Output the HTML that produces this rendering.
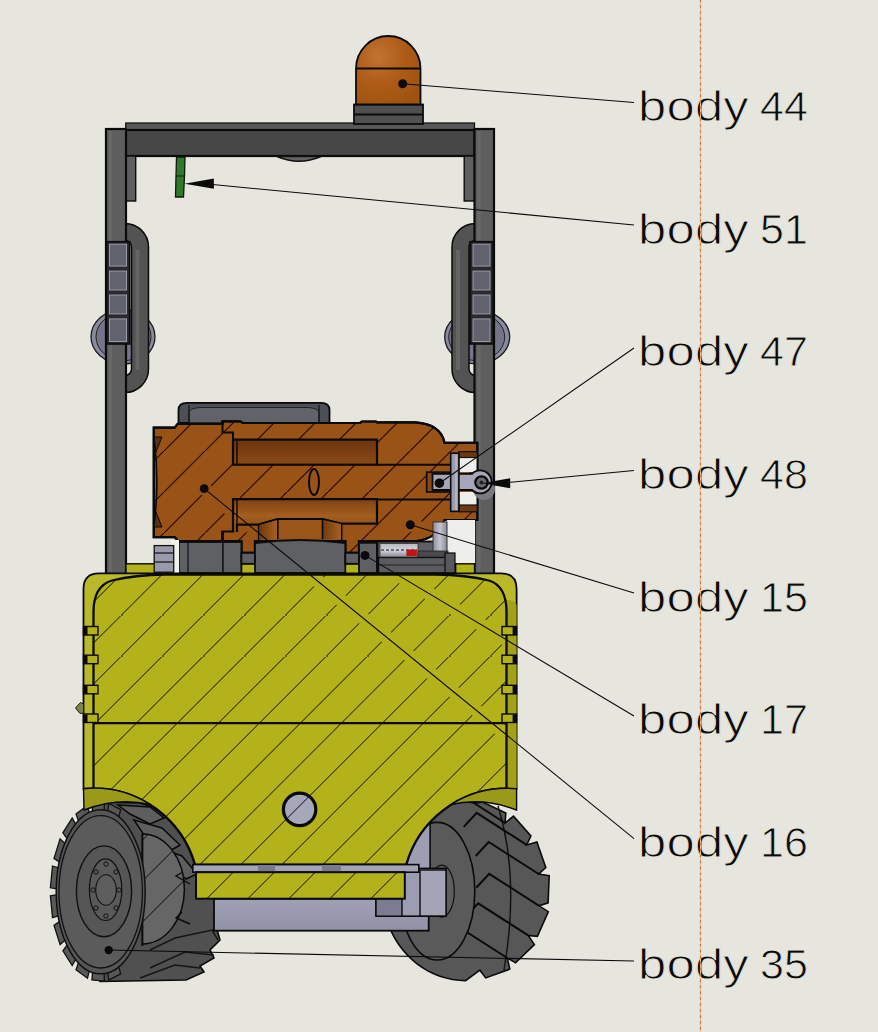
<!DOCTYPE html>
<html><head><meta charset="utf-8">
<style>
html,body{margin:0;padding:0;background:#E6E5DE;width:878px;height:1032px;overflow:hidden}
svg{display:block;position:absolute;left:0;top:0}
.lbl{position:absolute;font-family:"Liberation Sans",sans-serif;font-size:43px;color:#0a0a0a;white-space:nowrap;line-height:1;-webkit-text-stroke:0.9px #E6E5DE}
.b{left:638px;transform:scaleX(1.18);transform-origin:0 0;letter-spacing:0.2px}
.n{left:760px}
</style></head>
<body>
<svg width="878" height="1032" viewBox="0 0 878 1032">
<defs>
<pattern id="hy" patternUnits="userSpaceOnUse" width="41" height="41" patternTransform="translate(-1.5,0)">
<path d="M-2,43 L43,-2" stroke="#0a0a0a" stroke-width="1.0"/>
</pattern>
<pattern id="ho" patternUnits="userSpaceOnUse" width="41" height="41">
<path d="M-2,43 L43,-2" stroke="#2a0606" stroke-width="1.2"/>
</pattern>
<linearGradient id="cav1" x1="0" y1="0" x2="0" y2="1"><stop offset="0" stop-color="#6a3410"/><stop offset="1" stop-color="#8e4a16"/></linearGradient>
<linearGradient id="cav2" x1="0" y1="0" x2="0" y2="1"><stop offset="0" stop-color="#7e4212"/><stop offset="0.5" stop-color="#a35e20"/><stop offset="1" stop-color="#8a4814"/></linearGradient>
<linearGradient id="pist" x1="0" y1="0" x2="1" y2="0"><stop offset="0" stop-color="#6e3a10"/><stop offset="1" stop-color="#a8621e"/></linearGradient>
<radialGradient id="dome" cx="0.35" cy="0.3" r="0.8"><stop offset="0" stop-color="#C27434"/><stop offset="0.5" stop-color="#AE5C16"/><stop offset="1" stop-color="#9E5210"/></radialGradient>
<linearGradient id="silv" x1="0" y1="0" x2="1" y2="0"><stop offset="0" stop-color="#8e8e9c"/><stop offset="0.5" stop-color="#c6c6d0"/><stop offset="1" stop-color="#8a8a98"/></linearGradient>
<linearGradient id="silv2" x1="0" y1="0" x2="0" y2="1"><stop offset="0" stop-color="#b8b8c4"/><stop offset="0.5" stop-color="#d4d4dc"/><stop offset="1" stop-color="#8a8a98"/></linearGradient>
<linearGradient id="blk" x1="0" y1="0" x2="0" y2="1"><stop offset="0" stop-color="#a2a2b6"/><stop offset="1" stop-color="#9090a6"/></linearGradient>
<clipPath id="clo"><path d="M153.8,427.6 H174.6 L177.7,423.8 H222.5 V421.3 H240 L243,423 H360 L362,421.5 H376 L377,422.3 H415 Q441,424 444.5,442.8 H477.3 V520 H444.5 Q438,538 416.5,541.2 H359 V552.9 H345.3 V541 H255 V552.9 H241.4 V541 H222.5 V531.5 L222.5,541 H178 L174.6,537.2 H153.8 Z"/></clipPath>
<clipPath id="cly"><path d="M93.5,612 Q93.5,586 112,580.5 Q135,575 165,574.5 H436 Q466,575 489,580.5 Q506.5,586 506.5,612 V788.4 A105.4,105.4 0 0 0 406.2,864.6 H195 A105.4,105.4 0 0 0 93.5,788.4 Z"/></clipPath>
</defs>

<!-- dashed vertical line -->


<!-- mirrors -->
<ellipse cx="123" cy="336.75" rx="32" ry="27.25" fill="#8a8a9e" stroke="#1a1a1a" stroke-width="1.3"/>
<ellipse cx="123.5" cy="336.75" rx="27.5" ry="24" fill="#74748a" stroke="#222" stroke-width="1"/>
<ellipse cx="477.2" cy="337.1" rx="32.5" ry="26.7" fill="#8a8a9e" stroke="#1a1a1a" stroke-width="1.3"/>
<ellipse cx="476.7" cy="337.1" rx="28" ry="23.5" fill="#74748a" stroke="#222" stroke-width="1"/>
<!-- top bar -->
<rect x="125.7" y="123" width="348.8" height="7.2" fill="#585858" stroke="#0c0c0c" stroke-width="1.2"/>
<rect x="125.7" y="130" width="348.8" height="26" fill="#474747" stroke="#0a0a0a" stroke-width="2.2"/>
<rect x="125.7" y="156" width="10" height="45" fill="#5f5f5f" stroke="#0c0c0c" stroke-width="1.4"/>
<rect x="464.2" y="156" width="10.3" height="45" fill="#5f5f5f" stroke="#0c0c0c" stroke-width="1.4"/>
<path d="M277,156.5 Q299,166 321,156.5 Z" fill="#666" stroke="#111" stroke-width="1.5"/>

<!-- beacon -->
<rect x="354" y="104.5" width="69" height="19.5" fill="#505050" stroke="#0a0a0a" stroke-width="1.8"/>
<line x1="354" y1="114.5" x2="423" y2="114.5" stroke="#0a0a0a" stroke-width="2"/>
<path d="M356,104.5 V68.6 A32.25,32.6 0 0 1 420.5,68.6 V104.5 Z" fill="url(#dome)" stroke="#0a0a0a" stroke-width="1.8"/>
<line x1="356" y1="68.6" x2="420.5" y2="68.6" stroke="#0a0a0a" stroke-width="2"/>

<!-- body 51 green -->
<path d="M176.5,157 L185,157 L184.5,176 L183.5,197 L175.5,197 L176,176 Z" fill="#2E7A2A" stroke="#0c1a0c" stroke-width="1.3"/>
<line x1="176" y1="176" x2="184.5" y2="176" stroke="#0c1a0c" stroke-width="1"/>

<!-- handles -->
<path d="M125,232 A15,15 0 0 1 140,247 V369 A15,15 0 0 1 125,384" fill="none" stroke="#0a0a0a" stroke-width="18.5"/>
<path d="M125,232 A15,15 0 0 1 140,247 V369 A15,15 0 0 1 125,384" fill="none" stroke="#535353" stroke-width="15.5"/>
<path d="M137.5,250 V370" fill="none" stroke="#646464" stroke-width="4"/>
<path d="M475.5,232 A15,15 0 0 0 460.5,247 V369 A15,15 0 0 0 475.5,384" fill="none" stroke="#0a0a0a" stroke-width="18.5"/>
<path d="M475.5,232 A15,15 0 0 0 460.5,247 V369 A15,15 0 0 0 475.5,384" fill="none" stroke="#535353" stroke-width="15.5"/>
<path d="M458,250 V370" fill="none" stroke="#646464" stroke-width="4"/>
<!-- pillars -->
<rect x="106" y="129" width="20" height="445" fill="#5e5e5e" stroke="#0a0a0a" stroke-width="2.2"/>
<rect x="474.5" y="129" width="19.5" height="445" fill="#5e5e5e" stroke="#0a0a0a" stroke-width="2.2"/>
<rect x="109" y="131" width="3" height="441" fill="#686868"/>
<rect x="477.5" y="131" width="3" height="441" fill="#686868"/>

<!-- steps -->
<g>
<rect x="106.5" y="241.7" width="23.2" height="102.3" fill="#2a2a2e" stroke="#0a0a0a" stroke-width="1.6"/>
<rect x="109.5" y="244.2" width="17" height="21.9" fill="#62626f" stroke="#9a9aa8" stroke-width="1"/>
<rect x="109.5" y="271.1" width="17" height="18.9" fill="#62626f" stroke="#9a9aa8" stroke-width="1"/>
<rect x="109.5" y="295.0" width="17" height="18.9" fill="#62626f" stroke="#9a9aa8" stroke-width="1"/>
<rect x="109.5" y="318.9" width="17" height="22.6" fill="#62626f" stroke="#9a9aa8" stroke-width="1"/>
<rect x="470.0" y="241.7" width="23.2" height="102.3" fill="#2a2a2e" stroke="#0a0a0a" stroke-width="1.6"/>
<rect x="473.0" y="244.2" width="17" height="21.9" fill="#62626f" stroke="#9a9aa8" stroke-width="1"/>
<rect x="473.0" y="271.1" width="17" height="18.9" fill="#62626f" stroke="#9a9aa8" stroke-width="1"/>
<rect x="473.0" y="295.0" width="17" height="18.9" fill="#62626f" stroke="#9a9aa8" stroke-width="1"/>
<rect x="473.0" y="318.9" width="17" height="22.6" fill="#62626f" stroke="#9a9aa8" stroke-width="1"/>
</g>

<!-- engine gray cap -->
<path d="M178.5,423 V410 Q178.5,402.8 187,402.8 H321 Q329.5,402.8 329.5,410 V423 Z" fill="#4c4f55" stroke="#0a0a0a" stroke-width="1.8"/>
<path d="M189,423 V412 Q191,408 200,407.5 H308 Q317,408 319,412 V423 Z" fill="#60636a" stroke="#222" stroke-width="1"/>
<line x1="189" y1="405" x2="189" y2="423" stroke="#111" stroke-width="1.2"/>
<line x1="319" y1="405" x2="319" y2="423" stroke="#111" stroke-width="1.2"/>

<!-- ORANGE SECTION -->
<path d="M153.8,427.6 H174.6 L177.7,423.8 H222.5 V421.3 H240 L243,423 H360 L362,421.5 H376 L377,422.3 H415 Q441,424 444.5,442.8 H477.3 V520 H444.5 Q438,538 416.5,541.2 H359 V552.9 H345.3 V541 H255 V552.9 H241.4 V541 H222.5 V531.5 L222.5,541 H178 L174.6,537.2 H153.8 Z" fill="#9A5317" stroke="#0a0a0a" stroke-width="2.2"/>
<path d="M153.8,427.6 H174.6 L177.7,423.8 H222.5 V421.3 H240 L243,423 H360 L362,421.5 H376 L377,422.3 H415 Q441,424 444.5,442.8 H477.3 V520 H444.5 Q438,538 416.5,541.2 H359 V552.9 H345.3 V541 H255 V552.9 H241.4 V541 H222.5 V531.5 L222.5,541 H178 L174.6,537.2 H153.8 Z" fill="url(#ho)"/>
<g clip-path="url(#clo)" stroke="#9A5317" stroke-width="13" stroke-linecap="round">
<line x1="204.2" y1="488.7" x2="634" y2="838.7"/>
<line x1="365" y1="555.4" x2="634" y2="716"/>
<line x1="410.3" y1="524.8" x2="634" y2="593.8"/>
<line x1="439.4" y1="483.2" x2="634" y2="348.5"/>
</g>
<path d="M153.8,427.6 H174.6 L177.7,423.8 H222.5 V421.3 H240 L243,423 H360 L362,421.5 H376 L377,422.3 H415 Q441,424 444.5,442.8 H477.3 V520 H444.5 Q438,538 416.5,541.2 H359 V552.9 H345.3 V541 H255 V552.9 H241.4 V541 H222.5 V531.5 L222.5,541 H178 L174.6,537.2 H153.8 Z" fill="none" stroke="#0a0a0a" stroke-width="2.2"/>
<path d="M222.5,421.3 V432.6 H233 V440 M222.5,541 V531.5 H233 V523" fill="none" stroke="#0a0a0a" stroke-width="2"/>
<path d="M153.8,437 Q160,480 153.8,527" fill="none" stroke="#0a0a0a" stroke-width="1.6"/>
<path d="M154,437 H162 L156,452 Z M154,527 H162 L156,512 Z" fill="#5a3014" stroke="#0a0a0a" stroke-width="1"/>
<!-- cavities -->
<rect x="233" y="439.6" width="144" height="25.1" fill="url(#cav1)" stroke="#0a0a0a" stroke-width="2.2"/>
<line x1="237" y1="440.5" x2="237" y2="464" stroke="#0a0a0a" stroke-width="1.4"/>
<path d="M233,532 V499.2 H377 V523.7 H341.6 L322.5,519.2 H277.8 L258.7,524.6 H237 V532" fill="url(#cav2)" stroke="#0a0a0a" stroke-width="2.2"/>
<line x1="237" y1="500" x2="237" y2="531" stroke="#0a0a0a" stroke-width="1.4"/>
<!-- piston -->
<path d="M258.7,541 V524.6 L277.8,519.2 H322.5 L341.6,523.7 V541 Z" fill="#9a5518" stroke="#0a0a0a" stroke-width="1.8"/>
<path d="M259.5,525 L277.8,520 V539.2 H259.5 Z" fill="url(#pist)"/>
<path d="M340.8,524 L322.5,520 V539.2 H340.8 Z" fill="url(#pist)"/>
<line x1="277.8" y1="519.2" x2="277.8" y2="539" stroke="#0a0a0a" stroke-width="1.6"/>
<line x1="322.5" y1="519.2" x2="322.5" y2="539" stroke="#0a0a0a" stroke-width="1.6"/>
<ellipse cx="314" cy="482" rx="5" ry="13" fill="none" stroke="#0a0a0a" stroke-width="2"/>
<!-- centre lines -->
<line x1="377" y1="464.7" x2="450" y2="464.7" stroke="#0a0a0a" stroke-width="2"/>
<line x1="377" y1="499.5" x2="450" y2="499.5" stroke="#0a0a0a" stroke-width="2"/>
<!-- right slots -->
<rect x="459.5" y="457.5" width="17" height="14.5" fill="#eeeeea"/>
<rect x="459.5" y="492" width="17" height="13" fill="#eeeeea"/>
<rect x="458.8" y="451.7" width="18.5" height="5.8" fill="#6a3a12" stroke="#111" stroke-width="1.2"/>
<rect x="458.8" y="505" width="18.5" height="6.8" fill="#6a3a12" stroke="#111" stroke-width="1.2"/>
<rect x="426.7" y="472.2" width="23.3" height="19.8" fill="#8a4a14" stroke="#111" stroke-width="1.8"/>

<!-- yellow lip -->
<rect x="126" y="563.8" width="348.5" height="10" fill="#B3B21A" stroke="#0a0a0a" stroke-width="1.4"/>
<!-- gray base blocks -->
<g fill="#5f6063" stroke="#0c0c0c" stroke-width="1.8">
<rect x="178.8" y="542" width="62.6" height="31"/>
<rect x="241.4" y="552.9" width="13.6" height="10.9"/>
<path d="M255,573 V543 Q300,537 345.3,543 V573 Z"/>
<rect x="345.3" y="552.9" width="13.7" height="10.9"/>
<rect x="359" y="542.8" width="18" height="30.2"/>
<rect x="377.5" y="541.5" width="78" height="31.5"/>
</g>
<line x1="222.9" y1="542" x2="222.9" y2="573" stroke="#111" stroke-width="1.6"/>
<line x1="188" y1="542" x2="188" y2="573" stroke="#111" stroke-width="1.2"/>
<rect x="171" y="540" width="8" height="33" fill="#f0f0ec"/>
<rect x="154.2" y="545.6" width="19.5" height="26.6" fill="#9a9aac" stroke="#111" stroke-width="1.3"/>
<line x1="154.2" y1="553" x2="173.7" y2="553" stroke="#111" stroke-width="1.2"/><line x1="154.2" y1="562" x2="173.7" y2="562" stroke="#111" stroke-width="1.2"/>
<!-- body15 box details -->
<rect x="447" y="520" width="28" height="43" fill="#eeeeea"/>
<rect x="433" y="522" width="14" height="30" fill="url(#silv)" stroke="#333" stroke-width="1"/>
<rect x="378.5" y="557.5" width="70" height="15.5" fill="#5c5c60" stroke="#0a0a0a" stroke-width="1.4"/>
<line x1="379" y1="565" x2="448" y2="565" stroke="#222" stroke-width="1"/>
<rect x="380" y="543.5" width="38" height="13.5" fill="url(#silv2)" stroke="#333" stroke-width="0.8"/>
<line x1="381" y1="550" x2="417" y2="550" stroke="#111" stroke-width="1.2" stroke-dasharray="3 2"/>
<rect x="406.4" y="549.5" width="10.5" height="6.5" fill="#c21414"/>
<rect x="418" y="551" width="30" height="6" fill="#4a4a4e" stroke="#222" stroke-width="0.8"/>
<rect x="445" y="553" width="10" height="20" fill="#58585c" stroke="#0a0a0a" stroke-width="1.2"/>

<!-- body 48 cross -->
<circle cx="484" cy="489" r="11" fill="#7a7a80"/>
<path d="M432.5,473.8 H472 A11.5,11.5 0 1 1 472,490 H432.5 Z" fill="#a6a6b8" stroke="#0a0a0a" stroke-width="1.8"/>
<rect x="450.7" y="453.2" width="8.2" height="58.2" fill="#9c9cae" stroke="#0a0a0a" stroke-width="1.6"/>
<line x1="456" y1="455" x2="456" y2="510" stroke="#c4c4d2" stroke-width="1.2"/>
<circle cx="481.5" cy="482.5" r="6.2" fill="#6a6a72" stroke="#0a0a0a" stroke-width="2.2"/>
<circle cx="481.5" cy="482.5" r="2" fill="#222"/>

<!-- wheels -->
<g id="wheels">
<!-- left tire tread (back) -->
<path d="M96,802 L140,803 Q172,812 196,838 L206,852 L214,862 L212,874 L219,890 L215,904 L222,912 L216,926 L220,940 L210,950 L214,958 L200,966 L204,972 L186,980 L100,981.5 Z" fill="#505050" stroke="#0a0a0a" stroke-width="1.6"/>
<g fill="#5e5e5e" stroke="#0a0a0a" stroke-width="1.5">
<path d="M118,805 L150,807 L164,818 L150,824 L130,814 Z"/>
<path d="M134,820 L162,828 L180,845 L168,852 L146,838 Z"/>
<path d="M160,848 L182,856 L197,874 L186,879 L170,864 Z"/>
</g>
<path d="M142.4,834 A42,55 0 0 1 142.4,944 Z" fill="#666666" stroke="#0a0a0a" stroke-width="1.4"/>
<path d="M142.4,834 A42,55 0 0 1 142.4,944 Z" fill="url(#hy)"/>
<path d="M183,872 L176,876 L190,884 M182,912 L176,918 L190,924" fill="none" stroke="#0a0a0a" stroke-width="1.4"/>
<path d="M150,950 L175,938 L212,930 L218,940 M150,968 L185,952 L214,955 M140,978 L175,965 L200,968" fill="none" stroke="#151515" stroke-width="1.5"/>
<path d="M142.4,834 V946" fill="none" stroke="#0a0a0a" stroke-width="1.8"/>
<!-- left face -->
<path fill="#585858" stroke="#111" stroke-width="1.3" d="M117.8,963.0 L120.7,973.9 L108.8,980.1 L107.0,968.9Z M104.2,969.5 L104.3,981.1 L91.9,979.9 L92.9,968.4Z M90.1,967.3 L87.5,978.2 L76.0,969.7 L79.7,959.3Z M77.3,956.5 L72.2,965.5 L62.9,950.8 L68.8,942.6Z M67.0,938.5 L60.1,944.6 L54.0,925.2 L61.6,920.1Z M60.6,915.1 L52.5,917.6 L50.4,895.8 L58.7,894.4Z M58.7,889.2 L50.4,887.8 L52.5,866.0 L60.6,868.5Z M61.6,863.5 L54.0,858.4 L60.1,839.0 L67.0,845.1Z M68.8,841.0 L62.9,832.8 L72.2,818.1 L77.3,827.1Z M79.7,824.3 L76.0,813.9 L87.5,805.4 L90.1,816.3Z M92.9,815.2 L91.9,803.7 L104.3,802.5 L104.2,814.1Z M107.0,814.7 L108.8,803.5 L120.7,809.7 L117.8,820.6Z"/>
<ellipse cx="100.7" cy="891.8" rx="44.5" ry="82" fill="#565656" stroke="#111" stroke-width="1.5"/>
<ellipse cx="100.7" cy="891.8" rx="41.7" ry="76.2" fill="#5b5b5b" stroke="#111" stroke-width="1.3"/>
<ellipse cx="104" cy="891.3" rx="27.6" ry="45.4" fill="#565656" stroke="#111" stroke-width="1.4"/>
<ellipse cx="105.6" cy="889.7" rx="16.2" ry="30.8" fill="#5a5a5a" stroke="#111" stroke-width="1.2"/>
<ellipse cx="106" cy="890" rx="10.3" ry="15.2" fill="#5e5e5e" stroke="#111" stroke-width="1.1"/>
<g fill="none" stroke="#111" stroke-width="1">
<circle cx="106" cy="864" r="2.2"/><circle cx="116" cy="872" r="2.2"/><circle cx="119" cy="890" r="2.2"/><circle cx="116" cy="908" r="2.2"/><circle cx="106" cy="916" r="2.2"/><circle cx="96" cy="908" r="2.2"/><circle cx="93" cy="890" r="2.2"/><circle cx="96" cy="872" r="2.2"/>
</g>
<!-- right tire -->
<path d="M465.6,980.6 L459.1,980.3 L452.6,979.5 L446.2,978.1 L439.9,976.2 L433.8,973.8 L427.8,970.9 L422.1,967.4 L416.7,963.5 L411.6,959.2 L406.8,954.4 L402.3,949.3 L398.3,943.8 L394.7,938.0 L391.5,931.8 L388.7,925.5 L386.5,918.9 L384.7,912.1 L383.4,905.3 L382.7,898.3 L382.4,891.3 L382.7,884.3 L383.4,877.3 L384.7,870.5 L386.5,863.7 L388.7,857.1 L391.5,850.8 L394.7,844.6 L398.3,838.8 L402.3,833.3 L406.8,828.2 L411.6,823.4 L416.7,819.1 L422.1,815.2 L427.8,811.7 L433.8,808.8 L439.9,806.4 L446.2,804.5 L452.6,803.1 L459.1,802.3 L465.6,802.0 L477.2,802.9 L482.5,802.0 L505.8,813.1 L505.1,823.0 L513.5,816.1 L530.9,836.0 L526.7,844.9 L536.9,842.0 L545.8,867.5 L538.7,874.0 L549.2,875.6 L548.1,902.8 L539.2,905.8 L548.3,911.7 L537.4,936.3 L528.2,935.4 L534.4,944.6 L515.5,962.8 L507.3,958.0 L509.8,969.1 L485.7,977.9 L479.9,970.2 L465.6,980.6Z" fill="#575757" stroke="#0a0a0a" stroke-width="1.6"/>
<path d="M498,806 Q520,877 504,970" fill="none" stroke="#111" stroke-width="1.4"/>
<path d="M442.1,805.0 L455.1,791.0 L505.1,823.0 M463.7,826.9 L476.7,812.9 L526.7,844.9 M475.7,856.0 L488.7,842.0 L538.7,874.0 M476.2,887.8 L489.2,873.8 L539.2,905.8 M465.2,917.4 L478.2,903.4 L528.2,935.4 M444.3,940.0 L457.3,926.0 L507.3,958.0" fill="none" stroke="#0a0a0a" stroke-width="2"/>
<ellipse cx="437.2" cy="891.2" rx="37.6" ry="68.8" fill="#5a5a5a" stroke="#0a0a0a" stroke-width="1.6"/>
<ellipse cx="441.8" cy="891.2" rx="12.5" ry="26" fill="#5e5e5e" stroke="#111" stroke-width="1.2"/>
<rect x="398" y="822" width="32.1" height="48" fill="#9d9db3" stroke="#0a0a0a" stroke-width="1.6"/>
</g>
<!-- YELLOW BODY -->
<path d="M83.5,589 Q83.5,573.3 99,573.3 H501 Q516.6,573.3 516.6,589 V788.7 A105.4,105.4 0 0 0 406.2,864.6 H195 A105.4,105.4 0 0 0 83.5,788.7 Z" fill="#BAB92A" stroke="#0a0a0a" stroke-width="1.8"/>
<path d="M506.5,600 Q514,600 516.6,605 V788.7 L506.5,788.4 Z" fill="#A2A118"/>
<path d="M93.5,612 Q93.5,586 112,580.5 Q135,575 165,574.5 H436 Q466,575 489,580.5 Q506.5,586 506.5,612 V788.4 A105.4,105.4 0 0 0 406.2,864.6 H195 A105.4,105.4 0 0 0 93.5,788.4 Z" fill="#B3B21A"/>
<path d="M93.5,612 Q93.5,586 112,580.5 Q135,575 165,574.5 H436 Q466,575 489,580.5 Q506.5,586 506.5,612 V788.4 A105.4,105.4 0 0 0 406.2,864.6 H195 A105.4,105.4 0 0 0 93.5,788.4 Z" fill="url(#hy)"/>
<g clip-path="url(#cly)" stroke="#B3B21A" stroke-width="13" stroke-linecap="round">
<line x1="204.2" y1="488.7" x2="634" y2="838.7"/>
<line x1="365" y1="555.4" x2="634" y2="716"/>
</g>
<path d="M93.5,612 Q93.5,586 112,580.5 Q135,575 165,574.5 H436 Q466,575 489,580.5 Q506.5,586 506.5,612 V788.4 A105.4,105.4 0 0 0 406.2,864.6 H195 A105.4,105.4 0 0 0 93.5,788.4 Z" fill="none" stroke="#0a0a0a" stroke-width="2.3"/>
<line x1="93.5" y1="723.2" x2="506.5" y2="723.2" stroke="#0a0a0a" stroke-width="2.2"/>
<!-- fenders -->
<path d="M83.5,788.7 A105.4,105.4 0 0 1 150,804.5 Q118,797 84,810 Z" fill="#9A9918" stroke="#0a0a0a" stroke-width="1.4"/>
<path d="M516.6,788.7 A105.4,105.4 0 0 0 451,804.5 Q483,797 516.6,810 Z" fill="#9A9918" stroke="#0a0a0a" stroke-width="1.4"/>
<!-- notches -->
<g fill="#B3B21A" stroke="#0a0a0a" stroke-width="1.4">
<rect x="83.5" y="626.5" width="14.5" height="8.5"/><rect x="83.5" y="655.2" width="14.5" height="8.5"/>
<rect x="83.5" y="685.3" width="14.5" height="8.5"/><rect x="83.5" y="714" width="14.5" height="8.5"/>
<rect x="502" y="626.5" width="14.6" height="8.5"/><rect x="502" y="655.2" width="14.6" height="8.5"/>
<rect x="502" y="685.3" width="14.6" height="8.5"/><rect x="502" y="714" width="14.6" height="8.5"/>
</g>
<g fill="#0a0a0a">
<rect x="83.5" y="627" width="4" height="8"/><rect x="83.5" y="655.7" width="4" height="8"/><rect x="83.5" y="685.8" width="4" height="8"/><rect x="83.5" y="714.5" width="4" height="8"/>
<rect x="512.6" y="627" width="4" height="8"/><rect x="512.6" y="655.7" width="4" height="8"/><rect x="512.6" y="685.8" width="4" height="8"/><rect x="512.6" y="714.5" width="4" height="8"/>
</g>
<path d="M75.5,708 L80.5,702.5 L83.5,704 V713 L80,713.5 Z" fill="#7d8a3c" stroke="#1a1a1a" stroke-width="1"/>
<!-- hole -->
<circle cx="299.6" cy="809.4" r="16.2" fill="#a7a7ba" stroke="#0a0a0a" stroke-width="3.2"/>
<circle cx="299.6" cy="809.4" r="14.6" fill="url(#hy)"/>

<!-- lower frame -->
<rect x="214" y="898.7" width="214.7" height="32" fill="url(#blk)" stroke="#0a0a0a" stroke-width="1.8"/>
<rect x="376" y="868.4" width="70" height="47.8" fill="#9c9cb2" stroke="#0a0a0a" stroke-width="1.6"/>
<rect x="376" y="898.7" width="26" height="17.5" fill="#7c7c90" stroke="#0a0a0a" stroke-width="1.4"/>
<rect x="420" y="870" width="26" height="46" fill="#a4a4b8" stroke="#0a0a0a" stroke-width="1.4"/>
<rect x="192.8" y="864.6" width="226" height="7.6" fill="#a4a4b8" stroke="#0a0a0a" stroke-width="1.6"/>
<rect x="258" y="865" width="17" height="7" fill="#7a7a8c"/>
<rect x="322" y="865" width="19" height="7" fill="#7a7a8c"/>
<rect x="196" y="872.2" width="208.8" height="26.5" fill="#B3B21A" stroke="#0a0a0a" stroke-width="2"/>
<rect x="196" y="872.2" width="208.8" height="26.5" fill="url(#hy)"/>

<!-- leaders -->
<g stroke="#0a0a0a" stroke-width="1.05" fill="none">
<line x1="402.7" y1="83.8" x2="634" y2="102.5"/>
<line x1="205" y1="183.8" x2="634" y2="225"/>
<line x1="439.4" y1="483.2" x2="634" y2="348"/>
<line x1="500" y1="483.2" x2="634" y2="470.5"/>
<line x1="410.3" y1="524.8" x2="634" y2="593"/>
<line x1="365" y1="555.4" x2="634" y2="716"/>
<line x1="204.2" y1="488.7" x2="634" y2="838.7"/>
<line x1="108.7" y1="950.1" x2="634" y2="961"/>
</g>
<g fill="#0a0a0a">
<circle cx="402.7" cy="83.8" r="4.5"/>
<circle cx="439.4" cy="483.2" r="4.8"/>
<circle cx="410.3" cy="524.8" r="4.5"/>
<circle cx="365" cy="555.4" r="4.5"/>
<circle cx="204.2" cy="488.7" r="4.4"/>
<circle cx="108.7" cy="950.1" r="4.2"/>
<path d="M184.5,183.8 L213.9,178.6 L213.9,188.8 Z"/>
<path d="M482,483.2 L510.2,478.2 L510.2,488.2 Z"/>
</g>
</svg>

<div class="lbl b" style="top:85.1px">body</div><div class="lbl n" style="top:85.1px">44</div>
<div class="lbl b" style="top:207.7px">body</div><div class="lbl n" style="top:207.7px">51</div>
<div class="lbl b" style="top:330.3px">body</div><div class="lbl n" style="top:330.3px">47</div>
<div class="lbl b" style="top:452.9px">body</div><div class="lbl n" style="top:452.9px">48</div>
<div class="lbl b" style="top:575.5px">body</div><div class="lbl n" style="top:575.5px">15</div>
<div class="lbl b" style="top:698.1px">body</div><div class="lbl n" style="top:698.1px">17</div>
<div class="lbl b" style="top:820.7px">body</div><div class="lbl n" style="top:820.7px">16</div>
<div class="lbl b" style="top:943.3px">body</div><div class="lbl n" style="top:943.3px">35</div>
<svg width="878" height="1032" style="position:absolute;left:0;top:0"><line x1="700.5" y1="0" x2="700.5" y2="1032" stroke="#F2B67E" stroke-width="1.2"/>
<line x1="700.5" y1="-0.5" x2="700.5" y2="1032" stroke="#B07E48" stroke-width="1.2" stroke-dasharray="2.4 3.54"/></svg>
</body></html>
